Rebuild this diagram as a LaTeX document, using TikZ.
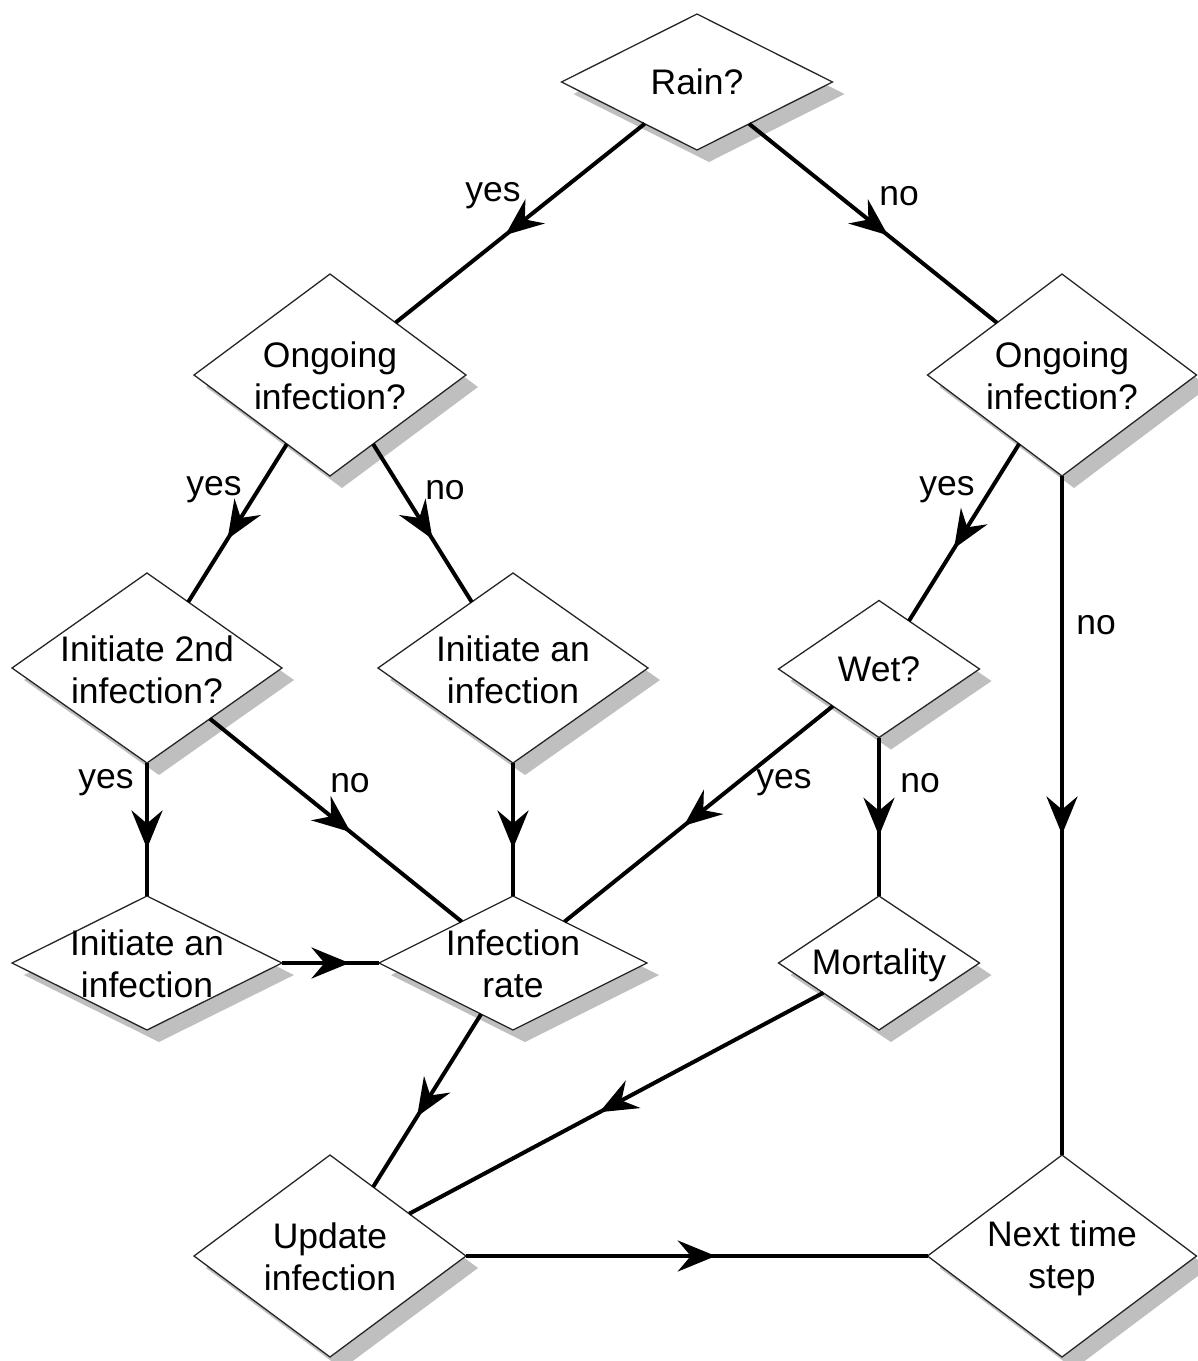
\documentclass[tikz,border=0pt]{standalone}
\usepackage{fontspec}
\setmainfont{Liberation Sans}
\usetikzlibrary{shapes.geometric,arrows.meta,decorations.markings,shadows}
\begin{document}
\begin{tikzpicture}[x=1pt,y=-1pt,
  dia/.style={diamond, draw=black!85, line width=1.3pt, fill=white, inner sep=0pt, outer sep=0pt,
    drop shadow={shadow xshift=12pt, shadow yshift=-12pt, fill=black!25, opacity=1, draw=none}},
  txt/.style={font=\fontsize{35.5}{42}\selectfont, align=center, inner sep=0pt},
  lbl/.style={font=\fontsize{35.5}{40}\selectfont, inner sep=0pt, yshift=-4pt},
  flow/.style={line width=4pt, postaction={decorate},
    decoration={markings, mark=at position 0.5 with {\pgftransformxshift{19pt}\arrow{Stealth[length=38pt,width=31pt,inset=13pt]}}}}
]
\useasboundingbox (0,0) rectangle (1198,1361);

% diamonds
\node[dia, minimum width=271pt, minimum height=136pt] (rain) at (697,82) {};
\node[dia, minimum width=272pt, minimum height=202pt] (ongL) at (330,375) {};
\node[dia, minimum width=269pt, minimum height=202pt] (ongR) at (1062,375) {};
\node[dia, minimum width=270pt, minimum height=190pt] (init2) at (147,668) {};
\node[dia, minimum width=270pt, minimum height=190pt] (initM) at (513,668) {};
\node[dia, minimum width=201pt, minimum height=137pt] (wet) at (879,669) {};
\node[dia, minimum width=270pt, minimum height=134pt] (initL) at (147,963) {};
\node[dia, minimum width=268pt, minimum height=134pt] (rate) at (513,963) {};
\node[dia, minimum width=201pt, minimum height=134pt] (mort) at (879,963) {};
\node[dia, minimum width=272pt, minimum height=202pt] (upd) at (330,1256) {};
\node[dia, minimum width=269pt, minimum height=202pt] (next) at (1062,1256) {};

% texts
\node[txt] (rain-t) at (697,82) {Rain?};
\node[txt] (ongL-t) at (330,376) {Ongoing\\infection?};
\node[txt] (ongR-t) at (1062,376) {Ongoing\\infection?};
\node[txt] (init2-t) at (147,670) {Initiate 2nd\\infection?};
\node[txt] (initM-t) at (513,670) {Initiate an\\infection};
\node[txt] (wet-t) at (879,669) {Wet?};
\node[txt] (initL-t) at (147,964) {Initiate an\\infection};
\node[txt] (rate-t) at (513,964) {Infection\\rate};
\node[txt] (mort-t) at (879,965) {Mortality};
\node[txt] (upd-t) at (330,1257) {Update\\infection};
\node[txt] (next-t) at (1062,1258) {Next time\\step};

% connectors
\draw[flow] (rain) -- (ongL);
\draw[flow] (rain) -- (ongR);
\draw[flow] (ongL) -- (init2);
\draw[flow] (ongL) -- (initM);
\draw[flow] (ongR) -- (wet);
\draw[flow] (ongR) -- (next);
\draw[flow] (init2) -- (initL);
\draw[flow] (init2) -- (rate);
\draw[flow] (initM) -- (rate);
\draw[flow] (wet) -- (rate);
\draw[flow] (wet) -- (mort);
\draw[flow] (initL) -- (rate);
\draw[flow] (rate) -- (upd);
\draw[flow] (mort) -- (upd);
\draw[flow] (upd) -- (next);

% connector labels
\node[lbl] (l1) at (493,192) {yes};
\node[lbl] (l2) at (899,192) {no};
\node[lbl] (l3) at (214,486) {yes};
\node[lbl] (l4) at (445,486) {no};
\node[lbl] (l5) at (947,486) {yes};
\node[lbl] (l6) at (1096,621) {no};
\node[lbl] (l7) at (106,779) {yes};
\node[lbl] (l8) at (350,779) {no};
\node[lbl] (l9) at (784,779) {yes};
\node[lbl] (l10) at (920,779) {no};
\end{tikzpicture}
\end{document}
